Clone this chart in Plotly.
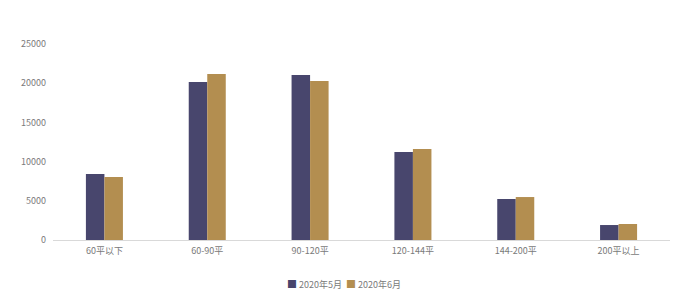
import plotly.graph_objects as go

categories = ["60平以下", "60-90平", "90-120平", "120-144平", "144-200平", "200平以上"]
may_values = [8420, 20150, 21050, 11220, 5230, 1910]
june_values = [8040, 21170, 20280, 11600, 5480, 2040]
y_ticks = [0, 5000, 10000, 15000, 20000, 25000]
y_tick_labels = ["0", "5000", "10000", "15000", "20000", "25000"]
series_names = ["2020年5月", "2020年6月"]
colors = ["#48466D", "#B38E50"]
text_color = "#7A7A7A"

fig = go.Figure()
fig.add_trace(go.Bar(name=series_names[0], x=categories, y=may_values, marker_color=colors[0], marker_line_width=0))
fig.add_trace(go.Bar(name=series_names[1], x=categories, y=june_values, marker_color=colors[1], marker_line_width=0))

legend_text = "&nbsp;&nbsp;".join(
    f"<span style='color:{c};font-size:10px'>■</span> {n}" for c, n in zip(colors, series_names)
)
fig.add_annotation(text=legend_text, xref="paper", yref="paper", x=(344 - 53) / 617, y=-43 / 196,
                   xanchor="center", yanchor="middle", showarrow=False,
                   font=dict(size=9, color=text_color))

fig.update_layout(
    width=688, height=299,
    margin=dict(l=53, r=18, t=44, b=59, autoexpand=False),
    paper_bgcolor="white", plot_bgcolor="white",
    barmode="group", bargap=0.64, bargroupgap=0,
    font=dict(family="Noto Sans CJK SC, Noto Sans, sans-serif", size=9, color=text_color),
    showlegend=False,
    xaxis=dict(showline=True, linecolor="#D9D9D9", linewidth=1, ticks="", showgrid=False,
               ticklabelstandoff=2, tickfont=dict(size=9, color=text_color)),
    yaxis=dict(range=[0, 25000], tickvals=y_ticks, ticktext=y_tick_labels, showgrid=False,
               zeroline=False, showline=False, ticks="", ticklabelstandoff=6,
               tickfont=dict(size=9, color=text_color)),
)

fig.write_html("out.html")
